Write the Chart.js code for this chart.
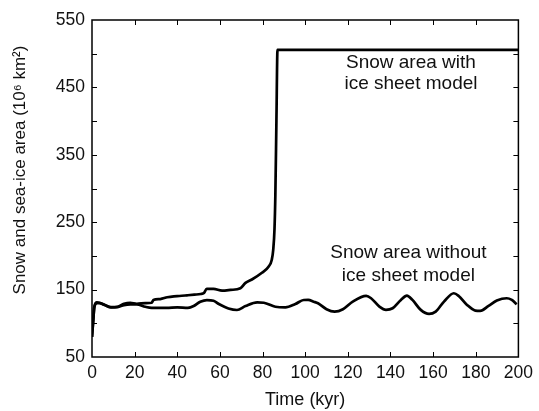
<!DOCTYPE html>
<html>
<head>
<meta charset="utf-8">
<script src="https://cdn.jsdelivr.net/npm/chart.js@4/dist/chart.umd.min.js"></script>
<style>
  html, body { margin: 0; padding: 0; background: #fff; }
  #wrap { width: 539px; height: 411px; }
</style>
</head>
<body>
<div id="wrap"><canvas id="c" width="539" height="411"></canvas></div>
<script>
// time (kyr) and area (10^6 km^2)
const iceTime = [0, 0.6, 1.1, 2.3, 3.5, 6, 8.9, 12, 15, 18, 21, 25, 28, 28.8, 32, 35.3, 38.4, 41, 44.6, 48, 51, 52.5, 53.8, 57, 61, 65, 69.6, 72, 75, 79.7, 82.8, 84.3, 85, 85.6, 86, 86.5, 87, 200];
const iceArea = [80, 105, 125, 131, 130.5, 127, 124, 124.5, 129, 130.5, 129, 130, 130.5, 134.5, 136, 138.6, 140, 140.5, 141.5, 142.5, 143.5, 145, 151, 151, 148.4, 149.5, 152, 160, 165, 175, 184, 194, 209, 240, 290, 400, 505.6, 505.6];

const noIceTime = [0, 0.6, 1.1, 2.3, 3.5, 6, 8.9, 12, 15, 18, 21, 25, 28, 35, 40, 45, 47.7, 50.8, 53.9, 57, 59.5, 64, 68, 72, 77.5, 80.6, 86, 90.7, 95.4, 99.3, 101.4, 104, 106, 110, 113.8, 117.7, 122.3, 128.6, 130.9, 134.8, 137.9, 141, 144.9, 147.7, 150.3, 154.2, 158.1, 161.2, 165.1, 169.7, 172, 175.9, 179.8, 182.1, 186, 189.9, 194.5, 196.9, 199.2];
const noIceArea = [80, 105, 124, 130, 130, 127, 123.5, 124, 127, 128, 128, 124.5, 123, 123, 123.5, 123, 125.6, 132, 134.5, 133.5, 128.6, 122, 119.7, 125.6, 131, 130.5, 124.6, 123.6, 128.6, 134.6, 134.7, 132, 129.7, 120.9, 117.4, 120.9, 132.2, 140.6, 137.2, 124.8, 119.9, 122.3, 134.7, 141.1, 134.7, 119.9, 113.9, 117.4, 132.2, 144.6, 140.6, 127.3, 118.9, 118.4, 125.8, 133.7, 137.2, 134.7, 128.3];

const labels = [
  { text: "Snow area with", x: 149.6, y: 487 },
  { text: "ice sheet model", x: 149.6, y: 455 },
  { text: "Snow area without", x: 148.4, y: 204 },
  { text: "ice sheet model", x: 148.4, y: 170 }
];

const FONT = "'Liberation Sans', Arial, Helvetica, sans-serif";

function toPoints(xs, ys) {
  const pts = [];
  for (let i = 0; i < xs.length; i++) {
    pts.push({ x: xs[i], y: ys[i] });
  }
  return pts;
}

const framePlugin = {
  id: "frame",
  afterDatasetsDraw(chart) {
    const { ctx, chartArea: a, scales } = chart;
    ctx.save();
    ctx.strokeStyle = "#000";
    ctx.lineWidth = 1.5;
    ctx.strokeRect(a.left, a.top, a.right - a.left, a.bottom - a.top);
    ctx.lineWidth = 1;
    ctx.beginPath();
    for (let v = 100; v < 550; v += 50) {
      const y = Math.round(scales.y.getPixelForValue(v)) + 0.5;
      ctx.moveTo(a.left, y); ctx.lineTo(a.left + 5, y);
      ctx.moveTo(a.right, y); ctx.lineTo(a.right - 5, y);
    }
    for (let v = 20; v < 200; v += 20) {
      const x = Math.round(scales.x.getPixelForValue(v)) + 0.5;
      ctx.moveTo(x, a.bottom); ctx.lineTo(x, a.bottom - 5);
      ctx.moveTo(x, a.top); ctx.lineTo(x, a.top + 5);
    }
    ctx.stroke();

    ctx.fillStyle = "#111";
    ctx.font = "19px " + FONT;
    ctx.textAlign = "center";
    ctx.textBaseline = "middle";
    labels.forEach(l => {
      ctx.fillText(l.text, scales.x.getPixelForValue(l.x), scales.y.getPixelForValue(l.y));
    });

    // y axis title
    ctx.font = "17px " + FONT;
    ctx.translate(20, 170);
    ctx.rotate(-Math.PI / 2);
    ctx.fillText("Snow and sea-ice area (10\u2076 km\u00B2)", 0, 0);
    ctx.restore();
  }
};

new Chart(document.getElementById("c"), {
  type: "scatter",
  data: {
    datasets: [
      {
        label: "Snow area with ice sheet model",
        data: toPoints(iceTime, iceArea),
        showLine: true,
        borderColor: "#000",
        borderWidth: 2.7,
        pointRadius: 0,
        cubicInterpolationMode: "monotone"
      },
      {
        label: "Snow area without ice sheet model",
        data: toPoints(noIceTime, noIceArea),
        showLine: true,
        borderColor: "#000",
        borderWidth: 2.7,
        pointRadius: 0,
        cubicInterpolationMode: "monotone"
      }
    ]
  },
  options: {
    responsive: false,
    animation: false,
    layout: { padding: { top: 20, right: 17, left: 0, bottom: 0 } },
    plugins: { legend: { display: false }, tooltip: { enabled: false } },
    scales: {
      x: {
        type: "linear",
        min: 0,
        max: 200,
        afterFit(scale) { scale.height = 54; },
        grid: { display: false, drawTicks: false },
        border: { display: false },
        ticks: { stepSize: 20, color: "#111", padding: 6, maxRotation: 0, font: { family: FONT, size: 17.5 } },
        title: { display: true, text: "Time (kyr)", color: "#111", padding: { top: 4, bottom: 0 }, font: { family: FONT, size: 18 } }
      },
      y: {
        min: 50,
        max: 550,
        afterFit(scale) { scale.width = 92; },
        grid: { display: false, drawTicks: false },
        border: { display: false },
        ticks: {
          stepSize: 50,
          color: "#111",
          padding: 7,
          font: { family: FONT, size: 17.5 },
          callback: v => ((v - 50) % 100 === 0 ? v : "")
        }
      }
    }
  },
  plugins: [framePlugin]
});
</script>
</body>
</html>
